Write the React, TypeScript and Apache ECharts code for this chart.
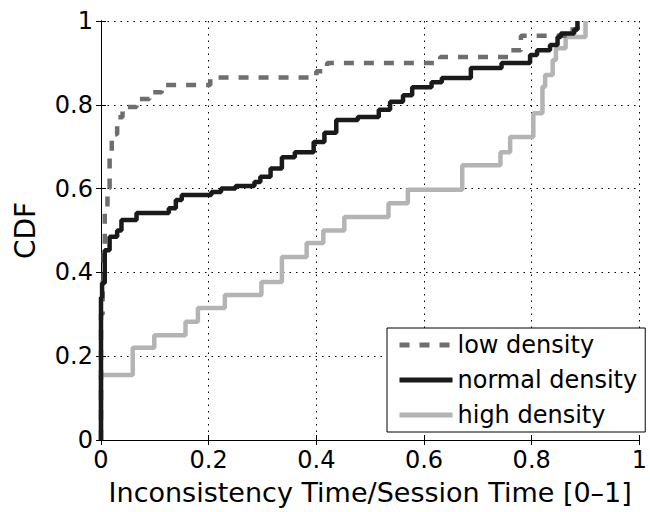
import React, { useEffect, useRef } from "react";
import * as echarts from "echarts";

const seriesNames = ["low density", "normal density", "high density"];

const lowDensity: [number, number][] = [
  [0, 0], [0, 0.3], [0.003, 0.38], [0.005, 0.45], [0.007, 0.54], [0.012, 0.6],
  [0.016, 0.685], [0.02, 0.73], [0.03, 0.77], [0.04, 0.795], [0.066, 0.814],
  [0.09, 0.83], [0.113, 0.847], [0.203, 0.865], [0.4, 0.88], [0.42, 0.9],
  [0.63, 0.914], [0.757, 0.93], [0.78, 0.965], [0.87, 0.98], [0.885, 1],
];

const normalDensity: [number, number][] = [
  [0, 0], [0, 0.34], [0.002, 0.375], [0.007, 0.453], [0.016, 0.485], [0.03, 0.5],
  [0.038, 0.525], [0.066, 0.542], [0.126, 0.553], [0.139, 0.573], [0.15, 0.585],
  [0.205, 0.592], [0.223, 0.6], [0.25, 0.606], [0.285, 0.616], [0.296, 0.628],
  [0.315, 0.648], [0.336, 0.675], [0.36, 0.687], [0.395, 0.711], [0.415, 0.733],
  [0.437, 0.764], [0.477, 0.771], [0.516, 0.788], [0.537, 0.807], [0.561, 0.823],
  [0.578, 0.842], [0.614, 0.854], [0.633, 0.864], [0.687, 0.888], [0.744, 0.9],
  [0.797, 0.919], [0.81, 0.93], [0.834, 0.943], [0.848, 0.962], [0.854, 0.97],
  [0.879, 0.98], [0.885, 1],
];

const highDensity: [number, number][] = [
  [0, 0], [0, 0.155], [0.059, 0.22], [0.099, 0.25], [0.157, 0.282], [0.18, 0.315],
  [0.23, 0.346], [0.298, 0.377], [0.336, 0.437], [0.382, 0.47], [0.413, 0.5],
  [0.452, 0.532], [0.534, 0.565], [0.57, 0.597], [0.671, 0.656], [0.742, 0.687],
  [0.76, 0.723], [0.803, 0.78], [0.82, 0.843], [0.825, 0.871], [0.839, 0.907],
  [0.845, 0.935], [0.863, 0.962], [0.9, 0.97], [0.9, 1],
];

const xTitle = "Inconsistency Time/Session Time [0\u20131]";
const yTitle = "CDF";

const FONT = "DejaVu Sans";

export default function App() {
  const ref = useRef<HTMLDivElement>(null);
  useEffect(() => {
    if (!ref.current) return;
    const chart = echarts.init(ref.current, null, { renderer: "svg" });
    const gridLine = { show: true, lineStyle: { color: "#000", width: 1, type: [1.5, 5] } };
    const axisLine = { show: true, lineStyle: { color: "#000", width: 1 } };
    const tick = { show: true, inside: true, length: 5, lineStyle: { color: "#000" } };
    const label = { color: "#000", fontFamily: FONT, fontSize: 24 };
    chart.setOption({
      animation: false,
      backgroundColor: "#fff",
      grid: { left: 101, top: 21, width: 547, height: 419, containLabel: false },
      xAxis: [
        {
          type: "value", min: 0, max: 1, interval: 0.2,
          axisLine, axisTick: tick, splitLine: gridLine,
          axisLabel: { ...label, margin: 8 },
          name: xTitle, nameLocation: "middle", nameGap: 39,
          nameTextStyle: { color: "#000", fontFamily: FONT, fontSize: 27 },
        },
        {
          type: "value", position: "top", min: 0, max: 1, interval: 0.2,
          axisLine, axisTick: tick, splitLine: { show: false }, axisLabel: { show: false },
        },
      ],
      yAxis: [
        {
          type: "value", min: 0, max: 1, interval: 0.2,
          axisLine, axisTick: tick, splitLine: gridLine,
          axisLabel: { ...label, margin: 8 },
          name: yTitle, nameLocation: "middle", nameGap: 62,
          nameTextStyle: { color: "#000", fontFamily: FONT, fontSize: 28 },
        },
        {
          type: "value", position: "right", min: 0, max: 1, interval: 0.2,
          axisLine, axisTick: tick, splitLine: { show: false }, axisLabel: { show: false },
        },
      ],
      legend: {
        orient: "vertical",
        left: 387, top: 328,
        padding: [5, 8, 5, 10],
        itemGap: 11,
        itemWidth: 53,
        itemHeight: 14,
        borderColor: "#000",
        borderWidth: 1,
        borderRadius: 0,
        backgroundColor: "#fff",
        itemStyle: { opacity: 0 },
        lineStyle: { width: 5 },
        textStyle: { color: "#000", fontFamily: FONT, fontSize: 24 },
        data: seriesNames,
      },
      series: [
        {
          name: seriesNames[0], type: "line", step: "end", symbol: "none",
          data: lowDensity, z: 3,
          lineStyle: { color: "#6e6e6e", width: 4.5, type: [10, 10] },
          itemStyle: { color: "#6e6e6e" },
        },
        {
          name: seriesNames[1], type: "line", step: "end", symbol: "none",
          data: normalDensity, z: 4,
          lineStyle: { color: "#1a1a1a", width: 4.5 },
          itemStyle: { color: "#1a1a1a" },
        },
        {
          name: seriesNames[2], type: "line", step: "end", symbol: "none",
          data: highDensity, z: 2,
          lineStyle: { color: "#b4b4b4", width: 4.5 },
          itemStyle: { color: "#b4b4b4" },
        },
      ],
    });
    return () => chart.dispose();
  }, []);
  return (
    <div
      ref={ref}
      style={{ position: "absolute", left: 0, top: 0, width: 650, height: 512 }}
    />
  );
}
